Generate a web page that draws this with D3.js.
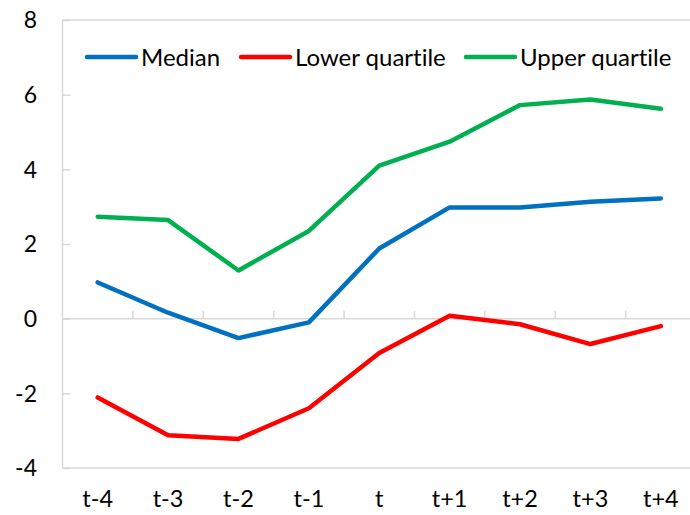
<!DOCTYPE html>
<html><head><meta charset="utf-8">
<script src="https://cdn.jsdelivr.net/npm/d3@7"></script>
<style>
html,body{margin:0;padding:0;background:#fff;}
svg{display:block;}
text{font-family:Lato,"Liberation Sans",sans-serif;fill:#000;font-variant-ligatures:none;}
</style></head>
<body><svg id="c" width="690" height="515"></svg>
<script>
const categories = ["t-4","t-3","t-2","t-1","t","t+1","t+2","t+3","t+4"];
const median = [0.97, 0.16, -0.52, -0.10, 1.88, 2.98, 2.98, 3.13, 3.22];
const lowerQuartile = [-2.11, -3.12, -3.22, -2.40, -0.92, 0.08, -0.15, -0.68, -0.20];
const upperQuartile = [2.73, 2.64, 1.29, 2.35, 4.10, 4.74, 5.72, 5.87, 5.62];
const yTicks = [-4, -2, 0, 2, 4, 6, 8];
const seriesNames = ["Median", "Lower quartile", "Upper quartile"];

const svg = d3.select("#c");
const x = d3.scaleBand().domain(categories).range([62.5, 696]).padding(0);
const y = d3.scaleLinear().domain([-4, 8]).range([468, 20]);
const grey = "#D9D9D9";
const cx = c => x(c) + x.bandwidth() / 2;

// plot border lines (top, bottom)
svg.append("line").attr("x1", 62.5).attr("x2", 700).attr("y1", y(8)).attr("y2", y(8))
  .attr("stroke", grey).attr("stroke-width", 1.5);
svg.append("line").attr("x1", 62.5).attr("x2", 700).attr("y1", y(-4)).attr("y2", y(-4))
  .attr("stroke", grey).attr("stroke-width", 1.5);

// y axis
const yAxis = svg.append("g").attr("transform", "translate(62.5,0)")
  .call(d3.axisRight(y).tickValues(yTicks).tickSize(8).tickFormat(""));
yAxis.selectAll("line").attr("stroke", grey).attr("stroke-width", 1.5);
yAxis.select(".domain").attr("stroke", grey).attr("stroke-width", 1.5).attr("d", `M0,${y(8)}V${y(-4)}`);

svg.append("g").selectAll("text").data(yTicks).join("text")
  .attr("x", 37).attr("y", d => y(d)).attr("dy", "0.36em")
  .attr("text-anchor", "end").attr("font-size", 23)
  .text(d => d);

// zero line with category ticks
svg.append("line").attr("x1", 62.5).attr("x2", 700).attr("y1", y(0)).attr("y2", y(0))
  .attr("stroke", grey).attr("stroke-width", 1.5);
svg.append("g").selectAll("line").data(categories.slice(1)).join("line")
  .attr("x1", d => x(d)).attr("x2", d => x(d))
  .attr("y1", y(0)).attr("y2", y(0) - 8)
  .attr("stroke", grey).attr("stroke-width", 1.5);

// x labels
const xAxis = svg.append("g").attr("transform", "translate(0,490)")
  .call(d3.axisBottom(x).tickSize(0).tickPadding(0));
xAxis.select(".domain").remove();
xAxis.selectAll("text").attr("font-size", 23.5).attr("font-family", "Lato, 'Liberation Sans', sans-serif")
  .attr("fill", "#000").attr("dy", "0.71em");

// lines
const series = [
  {name: seriesNames[0], values: median, color: "#0070C0"},
  {name: seriesNames[1], values: lowerQuartile, color: "#FF0000"},
  {name: seriesNames[2], values: upperQuartile, color: "#00B050"}
];
const line = d3.line().x((d, i) => cx(categories[i])).y(d => y(d));
svg.append("g").selectAll("path").data(series).join("path")
  .attr("d", d => line(d.values)).attr("fill", "none")
  .attr("stroke", d => d.color).attr("stroke-width", 4.5)
  .attr("stroke-linejoin", "round").attr("stroke-linecap", "round");

// legend
const legX = [87, 241, 466];
const lg = svg.append("g").selectAll("g").data(series).join("g")
  .attr("transform", (d, i) => `translate(${legX[i]},57)`);
lg.append("line").attr("x1", 0).attr("x2", 49).attr("y1", 0).attr("y2", 0)
  .attr("stroke", d => d.color).attr("stroke-width", 4.5).attr("stroke-linecap", "round");
lg.append("text").attr("x", 54).attr("y", 0).attr("dy", "0.36em")
  .attr("font-size", 24).text(d => d.name);
</script></body></html>
